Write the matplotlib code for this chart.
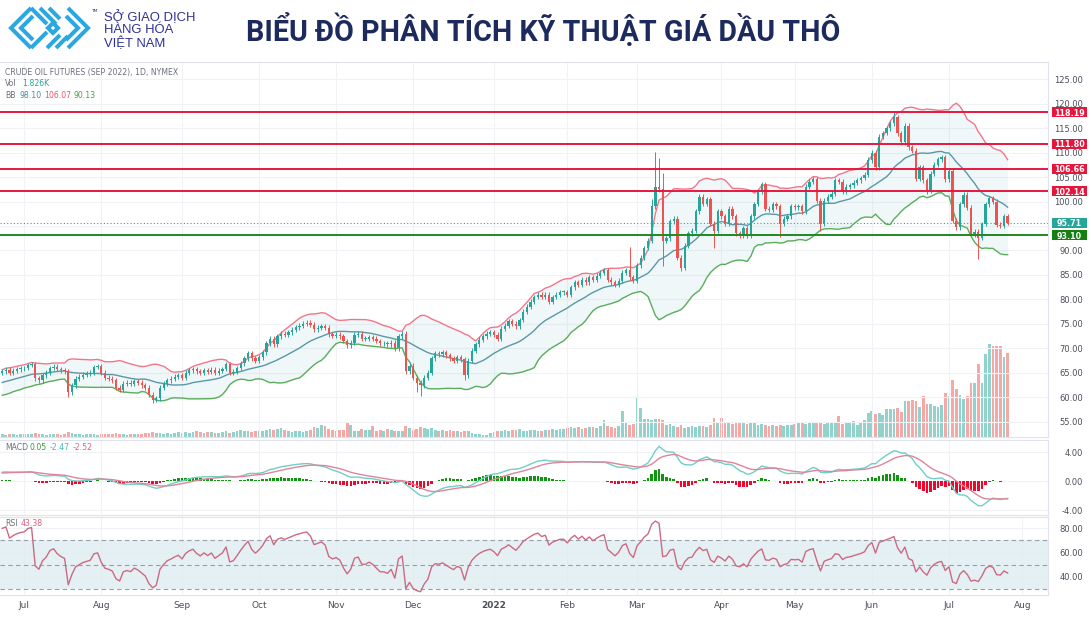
import numpy as np
import pandas as pd
import matplotlib
matplotlib.use("Agg")
import matplotlib.pyplot as plt
from matplotlib.patches import Rectangle

W, H = 1091, 619

# closes before the visible window, only used so the indicators start "warm"
warmup_close = [57.5, 57.9, 58.4, 58.0, 58.6, 59.0, 58.7, 59.3, 59.0, 58.6, 59.2, 59.6, 59.3,
                59.8, 60.2, 59.9, 59.5, 60.0, 60.4, 60.1, 60.5, 60.8, 60.4, 60.9, 61.2, 60.8,
                61.0, 61.3, 61.1, 61.6, 62.0, 61.8, 62.3, 62.6, 62.4, 62.9, 63.3, 63.1, 63.6,
                64.0, 63.8, 64.3, 64.7, 64.5, 65.0]

# daily closes (Sep 2022 crude contract)
close_jun21 = [65.3, 65.6, 65.0, 65.4, 65.7, 65.9]
close_jul21 = [66.0, 66.6, 66.8, 63.9, 63.5, 64.5, 65.0, 66.0, 66.3, 65.8, 65.5, 65.3, 61.0, 62.5,
               63.8, 64.2, 64.6, 64.8, 65.0, 66.2, 66.4]
close_aug21 = [65.0, 64.0, 63.8, 63.5, 62.0, 61.5, 62.8, 63.0, 62.8, 63.3, 63.0, 62.5, 62.0, 60.5,
               59.5, 59.8, 62.0, 62.8, 63.5, 63.8, 64.2, 64.5]
close_sep21 = [64.0, 65.0, 65.5, 65.8, 65.3, 65.0, 65.5, 65.2, 65.6, 65.0, 65.4, 65.8, 66.8, 65.0,
               65.2, 66.0, 67.0, 68.0, 69.0, 68.0, 67.5]
close_oct21 = [68.2, 69.2, 71.0, 72.0, 70.8, 72.5, 73.0, 72.8, 73.3, 73.8, 74.3, 74.6, 75.0, 75.2,
               74.8, 73.9, 74.2, 74.5, 74.2, 72.9, 72.6]
close_nov21 = [72.8, 72.5, 71.5, 70.6, 71.2, 72.8, 73.0, 72.0, 72.0, 72.3, 72.0, 71.5, 71.0, 71.0,
               70.8, 71.2, 70.0, 72.5, 73.0, 65.3, 66.5]
close_dec21 = [64.0, 63.0, 62.5, 64.0, 65.0, 68.0, 69.0, 68.8, 69.2, 68.6, 68.0, 67.5, 68.2, 67.8,
               64.5, 67.5, 69.5, 70.8, 71.8, 72.5, 73.0, 73.3]
close_jan22 = [72.8, 72.0, 74.0, 74.6, 75.5, 75.0, 74.5, 75.8, 77.5, 78.5, 79.5, 80.5, 81.0, 80.5,
               81.0, 79.5, 80.5, 81.0, 81.5, 81.5]
close_feb22 = [81.0, 82.5, 83.5, 83.0, 84.0, 83.5, 84.5, 84.0, 84.8, 85.5, 86.0, 84.0, 83.5, 83.0,
               83.8, 85.5, 86.0, 84.5, 83.8]
close_mar22 = [87.0, 88.5, 90.5, 92.0, 99.0, 103.0, 102.5, 92.0, 92.5, 96.0, 96.5, 88.5, 86.5, 91.0,
               93.5, 94.0, 98.0, 101.0, 99.5, 100.5, 95.5, 94.0, 98.0]
close_apr22 = [97.0, 95.5, 98.5, 97.0, 93.5, 93.0, 94.5, 93.0, 97.0, 99.5, 102.0, 103.5, 98.5, 98.3,
               99.5, 99.0, 95.5, 96.5, 97.0, 99.0]
close_may22 = [98.8, 99.0, 98.0, 103.0, 104.0, 104.5, 100.2, 95.5, 100.2, 101.0, 101.6, 104.3, 104.0,
               102.0, 103.0, 103.3, 103.8, 104.3, 104.8, 105.5, 108.4]
close_jun22 = [110.0, 107.0, 113.2, 114.0, 115.0, 116.0, 117.2, 113.9, 112.1, 115.5, 111.1, 110.4,
               104.7, 107.0, 104.3, 102.3, 105.7, 107.5, 108.6, 109.0, 104.5]
close_jul22 = [106.3, 96.1, 94.7, 99.4, 101.4, 98.7, 93.3, 93.8, 92.6, 95.4, 99.4, 100.7, 100.0,
               95.3, 95.0, 97.0, 95.71]

# wicks that stick out further than usual (bar index -> price)
wick_high = {171: 90.7, 177: 100.5, 178: 110.1, 179: 108.9, 180: 105.8, 236: 109.0, 243: 118.19}
wick_low = {18: 60.0, 41: 58.8, 42: 59.0, 113: 61.0, 114: 60.2, 126: 63.5, 180: 86.8, 185: 85.8,
            194: 90.5, 212: 92.8, 223: 94.0, 252: 101.5, 266: 88.3}

# volume, thousands of contracts
vol_jun21 = [0.06, 0.05, 0.07, 0.06, 0.05, 0.06]
vol_jul21 = [0.06, 0.07, 0.06, 0.09, 0.07, 0.06, 0.05, 0.07, 0.06, 0.06, 0.05, 0.06, 0.10, 0.08,
             0.07, 0.06, 0.05, 0.06, 0.07, 0.06, 0.05]
vol_aug21 = [0.06, 0.07, 0.06, 0.07, 0.08, 0.07, 0.06, 0.05, 0.06, 0.07, 0.06, 0.07, 0.08, 0.09,
             0.10, 0.08, 0.09, 0.07, 0.08, 0.07, 0.09, 0.10]
vol_sep21 = [0.09, 0.10, 0.08, 0.11, 0.12, 0.10, 0.09, 0.11, 0.10, 0.09, 0.08, 0.10, 0.12, 0.09,
             0.10, 0.13, 0.15, 0.12, 0.14, 0.11, 0.13]
vol_oct21 = [0.12, 0.14, 0.16, 0.18, 0.15, 0.17, 0.19, 0.16, 0.12, 0.11, 0.13, 0.12, 0.10, 0.14,
             0.15, 0.22, 0.20, 0.25, 0.24, 0.18, 0.15]
vol_nov21 = [0.14, 0.16, 0.15, 0.30, 0.25, 0.14, 0.13, 0.18, 0.15, 0.16, 0.24, 0.14, 0.15, 0.13,
             0.17, 0.16, 0.12, 0.13, 0.12, 0.24, 0.20]
vol_dec21 = [0.15, 0.18, 0.22, 0.19, 0.17, 0.20, 0.16, 0.14, 0.15, 0.13, 0.16, 0.14, 0.12, 0.10,
             0.14, 0.12, 0.09, 0.07, 0.06, 0.05, 0.04, 0.08]
vol_jan22 = [0.10, 0.12, 0.14, 0.15, 0.13, 0.16, 0.15, 0.17, 0.14, 0.12, 0.15, 0.16, 0.14, 0.13,
             0.15, 0.16, 0.17, 0.15, 0.18, 0.17]
vol_feb22 = [0.20, 0.22, 0.19, 0.21, 0.18, 0.20, 0.22, 0.21, 0.19, 0.23, 0.37, 0.24, 0.22, 0.20,
             0.24, 0.56, 0.30, 0.26, 0.28]
vol_mar22 = [0.85, 0.63, 0.40, 0.39, 0.38, 0.40, 0.39, 0.38, 0.26, 0.28, 0.24, 0.22, 0.25, 0.20,
             0.22, 0.24, 0.22, 0.23, 0.24, 0.22, 0.25, 0.41, 0.30]
vol_apr22 = [0.41, 0.30, 0.32, 0.28, 0.31, 0.33, 0.30, 0.29, 0.32, 0.30, 0.26, 0.28, 0.27, 0.24,
             0.25, 0.23, 0.26, 0.24, 0.25, 0.26]
vol_may22 = [0.28, 0.30, 0.31, 0.29, 0.32, 0.30, 0.33, 0.31, 0.29, 0.30, 0.32, 0.30, 0.46, 0.28,
             0.33, 0.30, 0.35, 0.27, 0.30, 0.36, 0.52]
vol_jun22 = [0.57, 0.50, 0.52, 0.48, 0.61, 0.61, 0.60, 0.62, 0.55, 0.78, 0.78, 0.80, 0.78, 0.65,
             0.89, 0.72, 0.72, 0.68, 0.65, 0.70, 0.96]
vol_jul22 = [0.90, 1.24, 1.05, 0.91, 0.83, 0.89, 1.17, 1.17, 1.59, 1.17, 1.80, 2.02, 1.98, 1.98,
             1.98, 1.74, 1.826]

red_levels = [118.19, 111.80, 106.66, 102.14]
green_level = 93.10
last_price = 95.71

month_labels = ["Jul", "Aug", "Sep", "Oct", "Nov", "Dec", "2022", "Feb", "Mar", "Apr", "May",
                "Jun", "Jul", "Aug"]
# trading days per month (first entry = last days of Jun 2021 on the chart)
month_days = [6, 21, 22, 21, 21, 21, 22, 20, 19, 23, 20, 21, 21, 20]

closes = np.array(close_jun21 + close_jul21 + close_aug21 + close_sep21 + close_oct21 + close_nov21
                  + close_dec21 + close_jan22 + close_feb22 + close_mar22 + close_apr22
                  + close_may22 + close_jun22 + close_jul22)
vols = np.array(vol_jun21 + vol_jul21 + vol_aug21 + vol_sep21 + vol_oct21 + vol_nov21 + vol_dec21
                + vol_jan22 + vol_feb22 + vol_mar22 + vol_apr22 + vol_may22 + vol_jun22 + vol_jul22)
n = len(closes)
x = np.arange(n)
opens = np.r_[warmup_close[-1], closes[:-1]]
highs = np.maximum(opens, closes) + 0.5
lows = np.minimum(opens, closes) - 0.5
for k, v in wick_high.items():
    highs[k] = v
for k, v in wick_low.items():
    lows[k] = v
# bar index of the first trading day of each month
month_pos = np.r_[[month_days[0]], month_days[0] + np.cumsum(month_days[1:-1])]

# ---- indicators -------------------------------------------------------
s = pd.Series(warmup_close + list(closes))
nw = len(warmup_close)
bb_mid = s.rolling(20).mean()
bb_sd = s.rolling(20).std(ddof=0)
bb_up = (bb_mid + 2 * bb_sd).values[nw:]
bb_lo = (bb_mid - 2 * bb_sd).values[nw:]
bb_mid = bb_mid.values[nw:]
ema12 = s.ewm(span=12, adjust=False).mean()
ema26 = s.ewm(span=26, adjust=False).mean()
macd = ema12 - ema26
signal = macd.ewm(span=9, adjust=False).mean()
hist = (macd - signal).values[nw:]
macd = macd.values[nw:]
signal = signal.values[nw:]
delta = s.diff()
gain = delta.clip(lower=0).ewm(alpha=1 / 14, adjust=False).mean()
loss = (-delta.clip(upper=0)).ewm(alpha=1 / 14, adjust=False).mean()
rsi = (100 - 100 / (1 + gain / loss)).values[nw:]

# ---- figure -----------------------------------------------------------
UP, DOWN = "#26a69a", "#ef5350"
RED_LINE, GREEN_LINE = "#e8173f", "#1f8a22"
GRID = "#f0f2f6"
BORDER = "#e0e3eb"
TXT = "#4a4e59"


def fx(px):
    return px / W


def fy(py):
    return 1 - py / H


fig = plt.figure(figsize=(W / 100, H / 100), dpi=100)
fig.patch.set_facecolor("white")

x_left, x_right = -0.6, 285.0
ax = fig.add_axes([0, fy(437), fx(1048), (437 - 62) / H])
ax_m = fig.add_axes([0, fy(515), fx(1048), (515 - 440) / H])
ax_r = fig.add_axes([0, fy(595), fx(1048), (595 - 517) / H])

# volume sits behind the candles on its own scale
axv = ax.twinx()
axv.set_zorder(ax.get_zorder() - 1)
ax.patch.set_visible(False)
vcol = [UP if c >= o else DOWN for o, c in zip(opens, closes)]
axv.bar(x, vols, width=0.75, color=vcol, alpha=0.5, linewidth=0)
axv.set_ylim(0, 8.15)
axv.set_xlim(x_left, x_right)
axv.axis("off")

pad_pt = (1083 - 1048) * 0.72
for a in (ax, ax_m, ax_r):
    a.set_xlim(x_left, x_right)
    a.set_xticks(month_pos)
    a.tick_params(axis="x", length=0, labelbottom=False)
    a.grid(True, color=GRID, lw=0.8)
    a.set_axisbelow(True)
    a.yaxis.tick_right()
    a.tick_params(axis="y", length=0, pad=pad_pt, labelsize=6, labelcolor=TXT,
                  labelleft=False, labelright=True)
    for sp in a.spines.values():
        sp.set_color(BORDER)
    a.spines["left"].set_visible(False)

# price panel (95.00 sits under the last-price tag, so it has no label)
ax.set_ylim(51.9, 128.5)
ticks = list(range(55, 130, 5))
ax.set_yticks(ticks, ["" if t == 95 else f"{t:.2f}" for t in ticks])

ax.fill_between(x, bb_up, bb_lo, color="#2a9aa6", alpha=0.07, linewidth=0)
ax.plot(x, bb_up, color="#f2768a", lw=1)
ax.plot(x, bb_mid, color="#5a98a8", lw=1)
ax.plot(x, bb_lo, color="#5aae5a", lw=1)

ccol = [UP if c >= o else DOWN for o, c in zip(opens, closes)]
ax.vlines(x, lows, highs, colors=ccol, lw=0.7, zorder=3)
body = np.maximum(np.abs(closes - opens), 0.15)
ax.bar(x, body, bottom=np.minimum(opens, closes), width=0.62, color=ccol, linewidth=0, zorder=4)

for lv in red_levels:
    ax.axhline(lv, color=RED_LINE, lw=1.4, zorder=5)
ax.axhline(green_level, color=GREEN_LINE, lw=1.4, zorder=5)
ax.axhline(last_price, color=UP, lw=0.8, ls=(0, (1, 2)), zorder=5)

# price tags on the scale: 35 x 10 px boxes
ytr = ax.get_yaxis_transform()
px_per_unit = 375 / (128.5 - 51.9)
box_h = 10 / px_per_unit
for lv, col in [(v, "#e5153c") for v in red_levels] + [(last_price, UP), (green_level, "#13800f")]:
    ax.add_patch(Rectangle((1052 / 1048, lv - box_h / 2), 35 / 1048, box_h, transform=ytr,
                           fc=col, ec="none", clip_on=False, zorder=9))
    ax.text(1069.5 / 1048, lv, f"{lv:.2f}", transform=ytr, ha="center", va="center_baseline",
            fontsize=5.8, color="white", fontweight="bold", clip_on=False, zorder=10)

# MACD panel
ax_m.set_ylim(-4.69, 5.66)
ax_m.set_yticks([4, 0, -4], ["4.00", "0.00", "-4.00"])
hcol = ["#119411" if h >= 0 else "#f2072c" for h in hist]
ax_m.bar(x, hist, width=0.7, color=hcol, linewidth=0, zorder=3)
ax_m.plot(x, macd, color="#6fcfc6", lw=1, zorder=4)
ax_m.plot(x, signal, color="#e0849a", lw=1, zorder=4)

# RSI panel
ax_r.set_ylim(25.3, 89)
ax_r.set_yticks([80, 60, 40], ["80.00", "60.00", "40.00"])
ax_r.axhspan(30, 70, color="#dcecef", alpha=0.75, lw=0)
for lv in (70, 50, 30):
    ax_r.axhline(lv, color="#9a9ea8", lw=0.8, ls=(0, (4, 3)))
ax_r.plot(x, rsi, color="#cc6a82", lw=1, zorder=4)
ax_r.set_xticks(np.r_[month_pos, month_pos[-1] + month_days[-1]], month_labels)
ax_r.tick_params(axis="x", labelbottom=True, labelsize=6.5, labelcolor=TXT, pad=4)
for lb in ax_r.get_xticklabels():
    if lb.get_text() == "2022":
        lb.set_fontweight("bold")

for a in (ax, ax_m, ax_r):
    for lb in a.get_yticklabels():
        lb.set_ha("right")


# legends in the panels
def put(px, py, s, color, size=5.6):
    fig.text(fx(px), fy(py), s, color=color, fontsize=size, va="center", ha="left")


put(5, 73, "CRUDE OIL FUTURES (SEP 2022), 1D, NYMEX", "#6b6f7a")
put(5, 84, "Vol", "#6b6f7a")
put(22, 84, "1.826K", UP)
put(5, 96, "BB", "#6b6f7a")
put(19, 96, "98.10", "#3f8fa3")
put(44, 96, "106.07", "#f05270")
put(73, 96, "90.13", "#43a047")
put(5, 447, "MACD", "#6b6f7a")
put(29, 447, "0.05", "#2e9a2e")
put(50, 447, "-2.47", "#3fbfb3")
put(73, 447, "-2.52", "#e0607e")
put(5, 524, "RSI", "#6b6f7a")
put(21, 524, "43.38", "#e0607e")

# header: logo (pixel coordinates, y down) + title
ax_logo = fig.add_axes([0, fy(60), fx(100), 60 / H])
ax_logo.set_xlim(0, 100)
ax_logo.set_ylim(60, 0)
ax_logo.axis("off")
LOGO = "#2aa8e0"
strokes = [
    [(31, 8), (11, 28), (31, 48)],
    [(33, 16), (21, 28), (33, 40)],
    [(68, 8), (88, 28), (68, 48)],
    [(66, 16), (78, 28), (66, 40)],
    [(31, 8), (47, 24)], [(40, 8), (56, 24)], [(49, 8), (60, 19)],
    [(31, 48), (47, 32)], [(47, 48), (60, 35)], [(56, 48), (68, 36)],
    [(53, 23), (58, 28), (53, 33), (48, 28), (53, 23)],
]
for pts in strokes:
    xs, ys = zip(*pts)
    ax_logo.plot(xs, ys, color=LOGO, lw=2.9, solid_capstyle="butt", solid_joinstyle="miter")
fig.text(fx(91), fy(11), "TM", fontsize=3.2, color="#2e3192", va="center")
for i, line in enumerate(["SỞ GIAO DỊCH", "HÀNG HÓA", "VIỆT NAM"]):
    fig.text(fx(104), fy(17 + 13 * i), line, fontsize=9.4, color="#2e3192", va="center",
             family=["Liberation Sans", "DejaVu Sans"])

title = fig.text(fx(543), fy(30), "BIỂU ĐỒ PHÂN TÍCH KỸ THUẬT GIÁ DẦU THÔ", fontsize=20,
                 fontweight="bold", color="#1d2a5e", ha="center", va="center",
                 family=["Liberation Sans Narrow", "Roboto", "DejaVu Sans"])
fig.canvas.draw()
tw = title.get_window_extent().width
title.set_fontsize(20 * 591 / tw)

fig.savefig("out.png", dpi=100, facecolor="white")
